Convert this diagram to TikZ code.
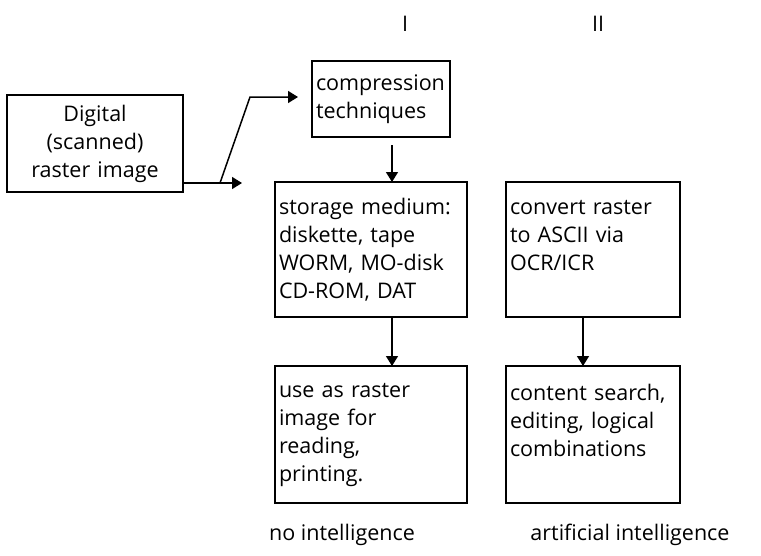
\documentclass[tikz,border=0pt]{standalone}
\usepackage{fontspec}
\setmainfont{Open Sans}
\usetikzlibrary{arrows.meta,positioning}
\tikzset{
    flowBox/.style={
        rectangle,
        draw,
        line width=1.8pt,
        outer sep=0pt,
        inner xsep=4pt,
        inner ysep=0pt,
        align=left,
        anchor=north west,
        font=\fontsize{21.5}{28}\selectfont
    },
    % column and bottom labels
    colLabel/.style={
        font=\fontsize{21.5}{28}\selectfont,
        inner sep=0pt
    }
}

\begin{document}
\begin{tikzpicture}[
    x=1pt, y=-1pt,
    arr/.style={-{Triangle[length=10pt,width=12pt]}, line width=1.5pt}
]
\useasboundingbox (0,0) rectangle (761,555);

\node[flowBox, align=center, text width=168pt, minimum height=97pt] (digital) at (7,95) {Digital\\(scanned)\\raster image};
\node[flowBox, text width=130pt, minimum height=76pt] (comp) at (312,61) {compression\\techniques};
\node[flowBox, text width=184pt, minimum height=135pt] (store) at (275,182) {storage medium:\\diskette, tape\\WORM, MO-disk\\CD-ROM, DAT};
\node[flowBox, text width=166pt, minimum height=135pt, right=39pt of store] (conv) {convert raster\\to ASCII via\\OCR/ICR\\\mbox{}};
\node[flowBox, text width=184pt, minimum height=137pt, below=49pt of store] (use) {use as raster\\image for\\reading,\\printing.};
\node[flowBox, text width=166pt, minimum height=137pt, below=49pt of conv] (content) {content search,\\editing, logical\\combinations\\\mbox{}};

\node[colLabel] (colOne) at (405,24) {I};
\node[colLabel] (colTwo) at (598,24) {II};
\node[colLabel, anchor=base] (noIntel) at (342,540) {no intelligence};
\node[colLabel, anchor=base] (artIntel) at (630,540) {artificial intelligence};

\coordinate (fork) at (220,183);
\coordinate (forkTip) at (242,183);
\coordinate (bend) at (250,97);

\draw[arr] ([yshift=9pt]digital.south east) -- (forkTip);
\draw[arr] (fork) -- (bend) -- ([xshift=-14pt]comp.west |- bend);
\draw[arr] ([xshift=11pt,yshift=-8pt]comp.south) -- ([xshift=11pt]comp.south |- store.north);
\draw[arr] ([xshift=21pt]store.south) -- ([xshift=21pt]store.south |- use.north);
\draw[arr] ([xshift=-10pt]conv.south) -- ([xshift=-10pt]conv.south |- content.north);
\end{tikzpicture}
\end{document}
